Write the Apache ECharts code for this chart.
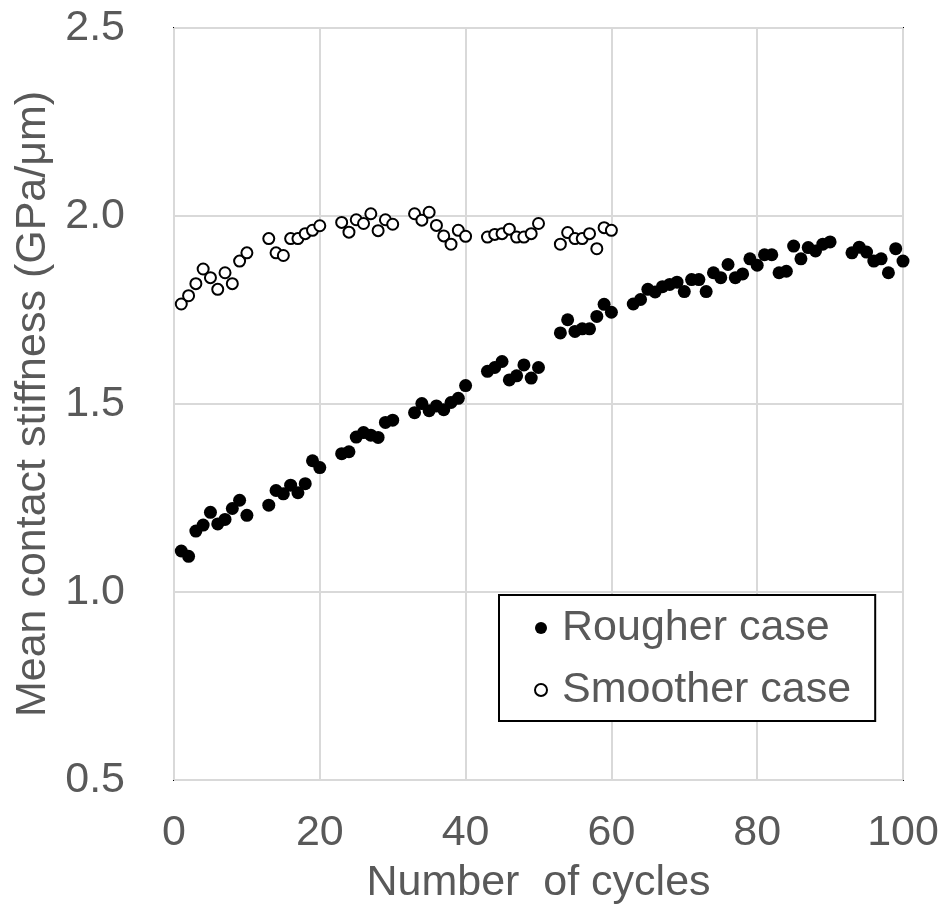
<!DOCTYPE html>
<html>
<head>
<meta charset="utf-8">
<script src="https://cdn.jsdelivr.net/npm/echarts@6/dist/echarts.min.js"></script>
<style>
html,body{margin:0;padding:0;background:#fff;}
#chart{width:946px;height:922px;}
</style>
</head>
<body>
<div id="chart"></div>
<script>
const roughCycles = [1,2,3,4,5,6,7,8,9,10,13,14,15,16,17,18,19,20,23,24,25,26,27,28,29,30,33,34,35,36,37,38,39,40,43,44,45,46,47,48,49,50,53,54,55,56,57,58,59,60,63,64,65,66,67,68,69,70,71,72,73,74,75,76,77,78,79,80,81,82,83,84,85,86,87,88,89,90,93,94,95,96,97,98,99,100];
const roughStiffness = [1.109,1.095,1.162,1.178,1.212,1.181,1.193,1.222,1.244,1.204,
  1.231,1.270,1.261,1.284,1.264,1.288,1.349,1.331,
  1.368,1.373,1.412,1.424,1.417,1.411,1.451,1.457,
  1.477,1.501,1.482,1.495,1.485,1.504,1.515,1.549,
  1.587,1.597,1.613,1.564,1.575,1.604,1.569,1.597,
  1.689,1.724,1.693,1.700,1.700,1.733,1.765,1.744,
  1.766,1.778,1.805,1.798,1.812,1.818,1.824,1.799,1.831,1.831,1.799,1.849,1.836,1.871,1.836,1.846,1.886,1.869,1.897,1.897,1.849,1.853,1.920,1.886,1.916,1.907,1.925,1.931,
  1.902,1.917,1.904,1.880,1.886,1.849,1.913,1.880];
const smoothCycles = [1,2,3,4,5,6,7,8,9,10,13,14,15,16,17,18,19,20,23,24,25,26,27,28,29,30,33,34,35,36,37,38,39,40,43,44,45,46,47,48,49,50,53,54,55,56,57,58,59,60];
const smoothStiffness = [1.766,1.788,1.820,1.859,1.836,1.805,1.849,1.820,1.880,1.902,
  1.940,1.902,1.895,1.940,1.940,1.953,1.962,1.974,
  1.983,1.957,1.990,1.980,2.006,1.961,1.990,1.978,
  2.006,1.989,2.010,1.975,1.947,1.925,1.962,1.946,
  1.944,1.951,1.953,1.965,1.944,1.944,1.953,1.980,
  1.925,1.956,1.940,1.940,1.953,1.913,1.969,1.962];
const seriesNames = ['Rougher case','Smoother case'];
const xTitle = 'Number  of cycles';
const yTitle = 'Mean contact stiffness (GPa/\u03bcm)';

const FONT = '"Liberation Sans", Arial, sans-serif';
const TXT = '#595959';
const chart = echarts.init(document.getElementById('chart'));
chart.setOption({
  animation: false,
  backgroundColor: '#fff',
  grid: {left: 174, right: 43, top: 28, bottom: 142, show: true, borderColor: '#000', borderWidth: 2, backgroundColor: 'transparent'},
  xAxis: {
    type: 'value', min: 0, max: 100, interval: 20,
    name: xTitle, nameLocation: 'middle', nameGap: 82,
    nameTextStyle: {fontFamily: FONT, fontSize: 43, color: TXT},
    axisLine: {show: false}, axisTick: {show: false},
    axisLabel: {fontFamily: FONT, fontSize: 43, color: TXT, margin: 32},
    splitLine: {show: true, lineStyle: {color: '#d9d9d9', width: 2}}
  },
  yAxis: {
    type: 'value', min: 0.5, max: 2.5, interval: 0.5,
    name: yTitle, nameLocation: 'middle', nameGap: 117,
    nameTextStyle: {fontFamily: FONT, fontSize: 43, color: TXT},
    axisLine: {show: false}, axisTick: {show: false},
    axisLabel: {fontFamily: FONT, fontSize: 43, color: TXT, margin: 49, formatter: v => v.toFixed(1)},
    splitLine: {show: true, lineStyle: {color: '#d9d9d9', width: 2}}
  },
  legend: {
    orient: 'vertical', left: 499, top: 595,
    backgroundColor: '#fff', borderColor: '#000', borderWidth: 2,
    padding: [11, 24, 9, 35], itemGap: 18,
    itemWidth: 12, itemHeight: 12, icon: 'circle',
    textStyle: {fontFamily: FONT, fontSize: 43, color: TXT, lineHeight: 44, padding: [0, 0, 0, 10]},
    data: [
      {name: seriesNames[0], itemStyle: {color: '#000', borderColor: '#000', borderWidth: 0}},
      {name: seriesNames[1], itemStyle: {color: '#fff', borderColor: '#000', borderWidth: 2}}
    ]
  },
  series: [
    {name: seriesNames[0], type: 'scatter', symbol: 'circle', symbolSize: 13,
     itemStyle: {color: '#000', opacity: 1},
     data: roughCycles.map((c, i) => [c, roughStiffness[i]])},
    {name: seriesNames[1], type: 'scatter', symbol: 'circle', symbolSize: 11,
     itemStyle: {color: '#fff', borderColor: '#000', borderWidth: 2, opacity: 1},
     data: smoothCycles.map((c, i) => [c, smoothStiffness[i]])}
  ]
});
</script>
</body>
</html>
